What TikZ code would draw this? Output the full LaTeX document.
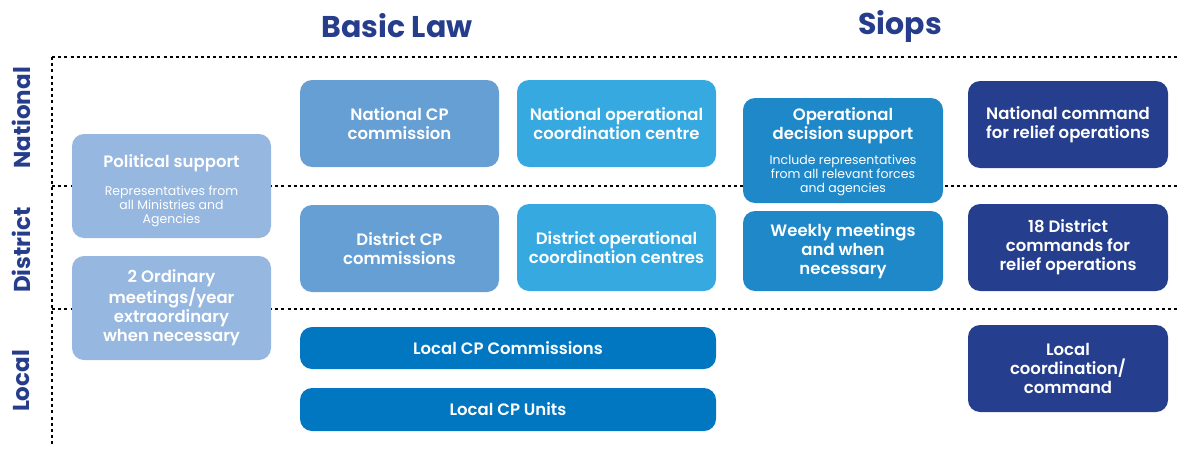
\documentclass[tikz,border=0pt]{standalone}
\usepackage{fontspec}
\setmainfont{Poppins}[BoldFont={Poppins SemiBold}]
\newfontfamily\popheavy{Poppins}
\definecolor{navy}{HTML}{263D8C}
\definecolor{cpale}{HTML}{95B7E0}
\definecolor{cmid}{HTML}{669FD4}
\definecolor{csky}{HTML}{36A9E0}
\definecolor{cdeep}{HTML}{0077C0}
\definecolor{cops}{HTML}{1E88C8}
\definecolor{cnavy}{HTML}{253F8E}
\tikzset{
  box/.style={rounded corners=12pt, text=white, align=center, inner sep=0pt,
    font=\fontsize{16.5}{19}\selectfont\bfseries},
  boxtext/.style={text=white, align=center, inner sep=0pt,
    font=\fontsize{16.5}{19}\selectfont\bfseries},
  dotline/.style={line width=2.8pt, dash pattern=on 3pt off 3.2pt, black},
  title/.style={text=navy, font=\popheavy\fontsize{30}{34}\selectfont\bfseries},
  rowlab/.style={text=navy, rotate=90, font=\popheavy\fontsize{23}{26}\selectfont\bfseries},
}
\newcommand{\sm}{\fontsize{12.5}{14}\selectfont\mdseries}
\begin{document}
\begin{tikzpicture}[x=1pt,y=-1pt]
\useasboundingbox (0,0) rectangle (1178,450);
% titles
\node[title] (tbasic) at (397,26) {Basic Law};
\node[title] (tsiops) at (900,26) {Siops};
% row labels
\node[rowlab] (lnat) at (21,118) {National};
\node[rowlab] (ldis) at (21,250) {District};
\node[rowlab] (lloc) at (21,381) {Local};
% dotted grid
\coordinate (g0) at (52,57);
\coordinate (g1) at (1178,57);
\coordinate (g2) at (52,447);
\coordinate (m0) at (52,186);
\coordinate (m1) at (1178,186);
\coordinate (n0) at (52,309);
\coordinate (n1) at (1178,309);
\draw[dotline] (g0) -- (g1);
\draw[dotline] (g0) -- (g2);
\draw[dotline] (m0) -- (m1);
\draw[dotline] (n0) -- (n1);
% left column
\node[box, fill=cpale, minimum width=199pt, minimum height=104pt] (pol) at (171.5,186) {};
\node[boxtext] (poltxt) at (171.5,190.5)
  {Political support\\[9pt]\sm Representatives from\\[-5pt]\sm all Ministries and\\[-5pt]\sm Agencies};
\node[box, fill=cpale, minimum width=199pt, minimum height=104pt] (ord) at (171.5,308)
  {2 Ordinary\\meetings/year\\extraordinary\\when necessary};
% basic law
\node[box, fill=cmid, minimum width=199pt, minimum height=87pt] (ncp) at (399.5,123.5)
  {National CP\\commission};
\node[box, fill=csky, minimum width=199pt, minimum height=87pt] (noc) at (616.5,123.5)
  {National operational\\coordination centre};
\node[box, fill=cmid, minimum width=199pt, minimum height=87pt] (dcp) at (399.5,248.5)
  {District CP\\commissions};
\node[box, fill=csky, minimum width=199pt, minimum height=87pt] (doc) at (616.5,247.5)
  {District operational\\coordination centres};
\node[box, fill=cdeep, minimum width=416pt, minimum height=42pt] (lcc) at (508,348)
  {Local CP Commissions};
\node[box, fill=cdeep, minimum width=416pt, minimum height=43pt] (lcu) at (508,409.5)
  {Local CP Units};
% siops
\node[box, fill=cops, minimum width=200pt, minimum height=105pt] (ods) at (843,150.5) {};
\node[boxtext] (odstxt) at (843,152)
  {Operational\\decision support\\[6pt]\sm Include representatives\\[-5pt]\sm from all relevant forces\\[-5pt]\sm and agencies};
\node[box, fill=cops, minimum width=200pt, minimum height=80pt] (wkm) at (843,251)
  {Weekly meetings\\and when\\necessary};
\node[box, fill=cnavy, minimum width=200pt, minimum height=87pt] (ncr) at (1068,124.5)
  {National command\\for relief operations};
\node[box, fill=cnavy, minimum width=200pt, minimum height=87pt] (dcr) at (1068,247.5)
  {18 District\\commands for\\relief operations};
\node[box, fill=cnavy, minimum width=200pt, minimum height=87pt] (lcr) at (1068,368.5)
  {Local\\coordination/\\command};
\end{tikzpicture}
\end{document}
